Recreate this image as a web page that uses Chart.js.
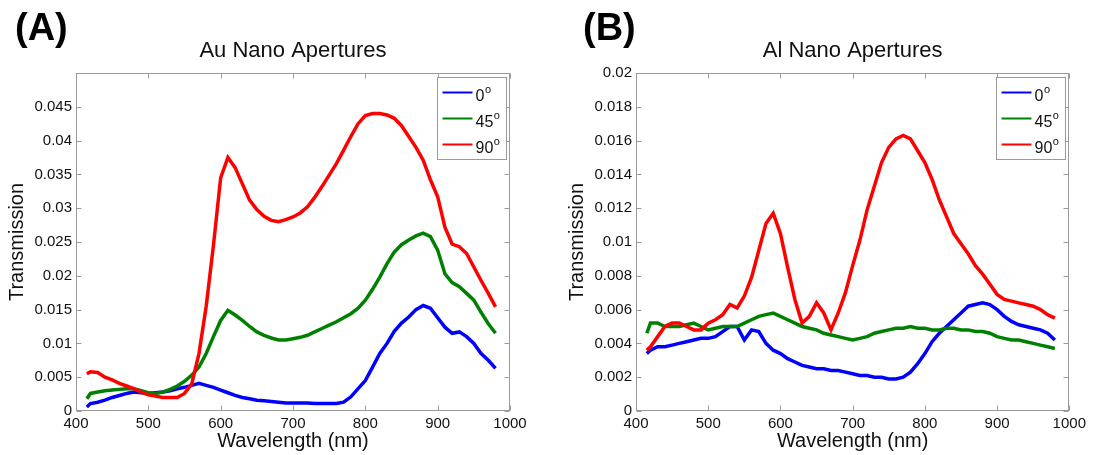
<!DOCTYPE html>
<html>
<head>
<meta charset="utf-8">
<script src="https://cdn.jsdelivr.net/npm/chart.js@4.4.1/dist/chart.umd.min.js"></script>
<style>
  html, body { margin: 0; padding: 0; background: #fff; }
  #page { position: relative; width: 1094px; height: 455px; overflow: hidden; }
  .panel { position: absolute; top: 0; height: 455px; }
  .tag { position: absolute; top: 8px; font: bold 38px/38px "Liberation Sans", Arial, sans-serif; color: #000; }
</style>
</head>
<body>
<div id="page">
  <div class="panel" style="left:0;width:560px"><canvas id="chartA"></canvas></div>
  <div class="panel" style="left:560px;width:534px"><canvas id="chartB"></canvas></div>
  <div class="tag" style="left:15px">(A)</div>
  <div class="tag" style="left:583px">(B)</div>
</div>
<script>
// wavelength samples (nm), shared by every series
const wavelengths = [415, 420, 430, 440, 450, 460, 470, 480, 490, 500, 510, 520, 530, 540, 550,
  560, 570, 580, 590, 600, 610, 620, 630, 640, 650, 660, 670, 680, 690, 700, 710, 720, 730, 740,
  750, 760, 770, 780, 790, 800, 810, 820, 830, 840, 850, 860, 870, 880, 890, 900, 910, 920, 930,
  940, 950, 960, 970, 980];

const angleLabels = ['0', '45', '90'];
const xTicks = [400, 500, 600, 700, 800, 900, 1000];

// (A) Au nano apertures
const au0 = [0.0006, 0.0011, 0.0013, 0.0016, 0.0020, 0.0023, 0.0026, 0.0028, 0.0027, 0.0026, 0.0027,
  0.0028, 0.0030, 0.0033, 0.0035, 0.0038, 0.0041, 0.0038, 0.0035, 0.0031, 0.0027, 0.0023, 0.0020,
  0.0018, 0.0016, 0.0015, 0.0014, 0.0013, 0.0012, 0.0012, 0.0012, 0.0012, 0.0011, 0.0011, 0.0011,
  0.0011, 0.0013, 0.0021, 0.0033, 0.0045, 0.0065, 0.0085, 0.0100, 0.0118, 0.0130, 0.0139, 0.0150,
  0.0156, 0.0152, 0.0138, 0.0124, 0.0115, 0.0117, 0.0110, 0.0100, 0.0085, 0.0075, 0.0063];
const au45 = [0.0018, 0.0026, 0.0028, 0.0030, 0.0031, 0.0032, 0.0033, 0.0033, 0.0030, 0.0027, 0.0026,
  0.0028, 0.0032, 0.0037, 0.0044, 0.0053, 0.0065, 0.0085, 0.0110, 0.0134, 0.0149, 0.0142, 0.0134,
  0.0125, 0.0117, 0.0112, 0.0108, 0.0105, 0.0105, 0.0107, 0.0109, 0.0112, 0.0117, 0.0122, 0.0127,
  0.0132, 0.0138, 0.0144, 0.0152, 0.0164, 0.0180, 0.0198, 0.0218, 0.0235, 0.0246, 0.0253, 0.0259,
  0.0263, 0.0258, 0.0238, 0.0203, 0.0190, 0.0184, 0.0174, 0.0164, 0.0146, 0.0129, 0.0115];
const au90 = [0.0055, 0.0058, 0.0057, 0.0050, 0.0046, 0.0041, 0.0037, 0.0033, 0.0028, 0.0024, 0.0022,
  0.0020, 0.0020, 0.0020, 0.0026, 0.0040, 0.0085, 0.0155, 0.0245, 0.0345, 0.0375, 0.0360, 0.0336,
  0.0312, 0.0298, 0.0288, 0.0282, 0.0280, 0.0283, 0.0287, 0.0293, 0.0302, 0.0316, 0.0332, 0.0349,
  0.0366, 0.0386, 0.0406, 0.0425, 0.0437, 0.0440, 0.0440, 0.0438, 0.0433, 0.0422, 0.0406, 0.0390,
  0.0371, 0.0342, 0.0317, 0.0272, 0.0247, 0.0243, 0.0233, 0.0213, 0.0193, 0.0174, 0.0154];

// (B) Al nano apertures
const al0 = [0.0034, 0.0036, 0.0038, 0.0038, 0.0039, 0.0040, 0.0041, 0.0042, 0.0043, 0.0043, 0.0044,
  0.0047, 0.0050, 0.0050, 0.0042, 0.0048, 0.0047, 0.0040, 0.0036, 0.0034, 0.0031, 0.0029, 0.0027,
  0.0026, 0.0025, 0.0025, 0.0024, 0.0024, 0.0023, 0.0022, 0.0021, 0.0021, 0.0020, 0.0020, 0.0019,
  0.0019, 0.0020, 0.0023, 0.0028, 0.0034, 0.0041, 0.0046, 0.0050, 0.0054, 0.0058, 0.0062, 0.0063,
  0.0064, 0.0063, 0.0060, 0.0056, 0.0053, 0.0051, 0.0050, 0.0049, 0.0048, 0.0046, 0.0042];
const al45 = [0.0046, 0.0052, 0.0052, 0.0050, 0.0050, 0.0050, 0.0051, 0.0052, 0.0050, 0.0048, 0.0049,
  0.0050, 0.0050, 0.0050, 0.0052, 0.0054, 0.0056, 0.0057, 0.0058, 0.0056, 0.0054, 0.0052, 0.0050,
  0.0049, 0.0048, 0.0046, 0.0045, 0.0044, 0.0043, 0.0042, 0.0043, 0.0044, 0.0046, 0.0047, 0.0048,
  0.0049, 0.0049, 0.0050, 0.0049, 0.0049, 0.0048, 0.0048, 0.0049, 0.0049, 0.0048, 0.0048, 0.0047,
  0.0047, 0.0046, 0.0044, 0.0043, 0.0042, 0.0042, 0.0041, 0.0040, 0.0039, 0.0038, 0.0037];
const al90 = [0.0036, 0.0038, 0.0044, 0.0050, 0.0052, 0.0052, 0.0050, 0.0048, 0.0048, 0.0052, 0.0054,
  0.0057, 0.0063, 0.0061, 0.0068, 0.0079, 0.0095, 0.0111, 0.0117, 0.0105, 0.0085, 0.0066, 0.0052,
  0.0056, 0.0064, 0.0058, 0.0048, 0.0058, 0.0070, 0.0086, 0.0101, 0.0119, 0.0133, 0.0147, 0.0156,
  0.0161, 0.0163, 0.0161, 0.0154, 0.0147, 0.0137, 0.0125, 0.0115, 0.0105, 0.0099, 0.0093, 0.0086,
  0.0081, 0.0075, 0.0069, 0.0066, 0.0065, 0.0064, 0.0063, 0.0062, 0.0060, 0.0057, 0.0055];

const FONT = '"Liberation Sans", Arial, sans-serif';
const AXIS_COLOR = '#9a9a9a';
const TEXT_COLOR = '#111';
const SERIES_COLORS = ['#0000ff', '#008000', '#ff0000'];

const toPoints = (values) => values.map((v, i) => ({ x: wavelengths[i], y: v }));

const fmtY = (v) => {
  if (Math.abs(v) < 1e-9) return '0';
  return String(+v.toFixed(4));
};

// MATLAB-like box with inward ticks on all four sides
const frameAndTicks = {
  id: 'frameAndTicks',
  afterDraw(chart) {
    const { ctx, chartArea: a, scales } = chart;
    const L = Math.round(a.left) + 0.5, R = Math.round(a.right) - 0.5;
    const T = Math.round(a.top) + 0.5, B = Math.round(a.bottom) - 0.5;
    const len = 5;
    ctx.save();
    ctx.strokeStyle = AXIS_COLOR;
    ctx.lineWidth = 1;
    ctx.beginPath();
    scales.x.ticks.forEach((t) => {
      const px = Math.round(scales.x.getPixelForValue(t.value)) + 0.5;
      ctx.moveTo(px, B); ctx.lineTo(px, B - len);
      ctx.moveTo(px, T); ctx.lineTo(px, T + len);
    });
    scales.y.ticks.forEach((t) => {
      const py = Math.round(scales.y.getPixelForValue(t.value)) + 0.5;
      ctx.moveTo(L, py); ctx.lineTo(L + len, py);
      ctx.moveTo(R, py); ctx.lineTo(R - len, py);
    });
    ctx.stroke();
    ctx.strokeRect(L, T, R - L, B - T);
    ctx.restore();
  }
};

// legend box in the top-right corner, labels with a superscript "o"
const innerLegend = {
  id: 'innerLegend',
  afterDraw(chart) {
    const { ctx, chartArea: a } = chart;
    const w = 69, h = 82;
    const x = Math.round(a.right) - 4 - w + 0.5, y = Math.round(a.top) + 4 + 0.5;
    ctx.save();
    ctx.fillStyle = '#fff';
    ctx.fillRect(x, y, w, h);
    ctx.strokeStyle = AXIS_COLOR;
    ctx.lineWidth = 1;
    ctx.strokeRect(x, y, w, h);
    chart.data.datasets.forEach((ds, i) => {
      const cy = y + 15 + i * 26;
      ctx.strokeStyle = ds.borderColor;
      ctx.lineWidth = 2;
      ctx.beginPath();
      ctx.moveTo(x + 5, cy);
      ctx.lineTo(x + 35, cy);
      ctx.stroke();
      ctx.fillStyle = TEXT_COLOR;
      ctx.textBaseline = 'alphabetic';
      ctx.textAlign = 'left';
      ctx.font = '16px ' + FONT;
      ctx.fillText(ds.label, x + 38, cy + 8);
      const tw = ctx.measureText(ds.label).width;
      ctx.font = '11px ' + FONT;
      ctx.fillText('o', x + 38 + tw + 0.5, cy);
    });
    ctx.restore();
  }
};

function makeChart(canvasId, title, series, yMax, yStep, rightPad, hideTop) {
  const ctx = document.getElementById(canvasId).getContext('2d');
  return new Chart(ctx, {
    type: 'line',
    data: {
      datasets: series.map((vals, i) => ({
        label: angleLabels[i],
        data: toPoints(vals),
        borderColor: SERIES_COLORS[i],
        backgroundColor: SERIES_COLORS[i],
        borderWidth: 3.5,
        pointRadius: 0,
        tension: 0,
        fill: false,
        order: 3 - i
      }))
    },
    options: {
      responsive: true,
      maintainAspectRatio: false,
      animation: false,
      layout: { padding: { left: 0, right: rightPad, top: 0, bottom: 0 } },
      plugins: {
        legend: { display: false },
        tooltip: { enabled: false },
        title: {
          display: true,
          text: title,
          fullSize: false,
          color: TEXT_COLOR,
          font: { family: FONT, size: 22, weight: 'normal', lineHeight: 1.2 },
          padding: { top: 38, bottom: 8.6 }
        }
      },
      scales: {
        x: {
          type: 'linear',
          min: 400,
          max: 1000,
          afterFit: (s) => { s.height = 44; },
          afterBuildTicks: (s) => { s.ticks = xTicks.map((v) => ({ value: v })); },
          grid: { display: false, drawTicks: false },
          border: { display: false },
          ticks: {
            color: TEXT_COLOR,
            font: { family: FONT, size: 15 },
            padding: 4,
            maxRotation: 0,
            autoSkip: false,
            callback: (v) => String(v)
          },
          title: {
            display: true,
            text: 'Wavelength (nm)',
            color: TEXT_COLOR,
            font: { family: FONT, size: 20, lineHeight: 1.2 },
            padding: { top: 0, bottom: 2 }
          }
        },
        y: {
          min: 0,
          max: yMax,
          afterFit: (s) => { s.width = 76; },
          grid: { display: false, drawTicks: false },
          border: { display: false },
          ticks: {
            stepSize: yStep,
            color: TEXT_COLOR,
            font: { family: FONT, size: 15 },
            padding: 4,
            autoSkip: false,
            callback: (v) => (hideTop && Math.abs(v - yMax) < 1e-9 ? '' : fmtY(v))
          },
          title: {
            display: true,
            text: 'Transmission',
            color: TEXT_COLOR,
            font: { family: FONT, size: 20, lineHeight: 1.2 },
            padding: { top: 5, bottom: 0 }
          }
        }
      }
    },
    plugins: [frameAndTicks, innerLegend]
  });
}

makeChart('chartA', 'Au Nano Apertures', [au0, au45, au90], 0.05, 0.005, 50, true);
makeChart('chartB', 'Al Nano Apertures', [al0, al45, al90], 0.02, 0.002, 24.7, false);
</script>
</body>
</html>
